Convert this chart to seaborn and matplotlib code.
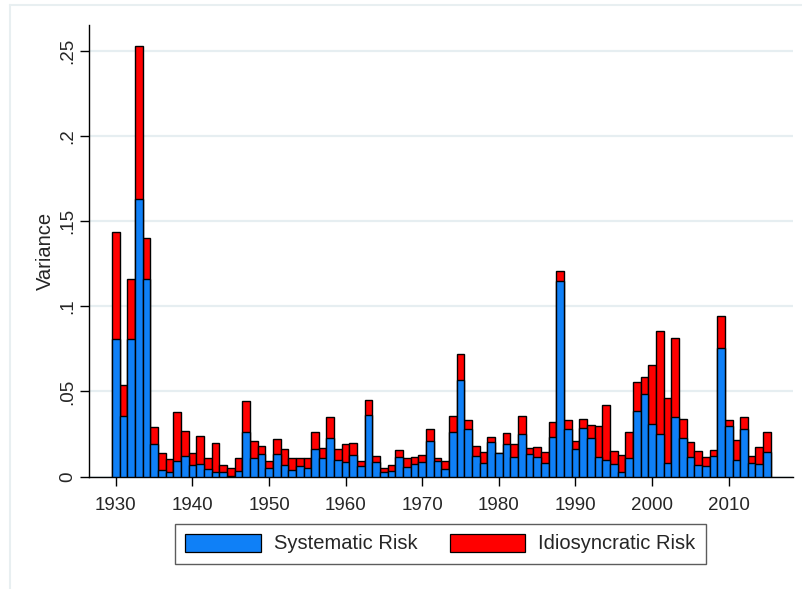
import numpy as np
import matplotlib
matplotlib.use("Agg")
import matplotlib.pyplot as plt
import seaborn as sns
from matplotlib.patches import Patch
from matplotlib.lines import Line2D

# Data
years = list(range(1930, 2016))

systematic = [
    0.0810, 0.0355, 0.0810, 0.1630, 0.1160, 0.0190, 0.0040, 0.0024, 0.0094, 0.0118,  # 1930s
    0.0065, 0.0071, 0.0043, 0.0025, 0.0025, 0.0005, 0.0033, 0.0259, 0.0110, 0.0130,  # 1940s
    0.0049, 0.0130, 0.0069, 0.0037, 0.0061, 0.0049, 0.0161, 0.0110, 0.0228, 0.0098,  # 1950s
    0.0087, 0.0124, 0.0061, 0.0360, 0.0087, 0.0024, 0.0033, 0.0116, 0.0057, 0.0071,  # 1960s
    0.0085, 0.0207, 0.0094, 0.0045, 0.0260, 0.0565, 0.0278, 0.0118, 0.0082, 0.0202,  # 1970s
    0.0137, 0.0192, 0.0114, 0.0249, 0.0135, 0.0114, 0.0082, 0.0233, 0.1149, 0.0278,  # 1980s
    0.0163, 0.0284, 0.0225, 0.0114, 0.0098, 0.0075, 0.0029, 0.0106, 0.0384, 0.0484,  # 1990s
    0.0310, 0.0249, 0.0082, 0.0347, 0.0225, 0.0112, 0.0069, 0.0059, 0.0120, 0.0755,  # 2000s
    0.0294, 0.0098, 0.0278, 0.0082, 0.0075, 0.0143,                                  # 2010s
]

idiosyncratic = [
    0.0627, 0.0184, 0.0350, 0.0900, 0.0240, 0.0100, 0.0099, 0.0076, 0.0286, 0.0151,
    0.0074, 0.0168, 0.0065, 0.0169, 0.0040, 0.0044, 0.0077, 0.0186, 0.0098, 0.0047,
    0.0045, 0.0088, 0.0094, 0.0069, 0.0045, 0.0057, 0.0101, 0.0059, 0.0124, 0.0065,
    0.0104, 0.0075, 0.0033, 0.0091, 0.0031, 0.0027, 0.0032, 0.0040, 0.0053, 0.0041,
    0.0039, 0.0071, 0.0014, 0.0049, 0.0095, 0.0153, 0.0055, 0.0062, 0.0063, 0.0031,
    0.0003, 0.0065, 0.0076, 0.0108, 0.0032, 0.0061, 0.0063, 0.0085, 0.0061, 0.0055,
    0.0047, 0.0055, 0.0079, 0.0180, 0.0320, 0.0076, 0.0098, 0.0153, 0.0169, 0.0100,
    0.0343, 0.0606, 0.0379, 0.0467, 0.0114, 0.0092, 0.0080, 0.0057, 0.0037, 0.0188,
    0.0039, 0.0114, 0.0069, 0.0040, 0.0098, 0.0116,
]

x_ticks = list(range(1930, 2011, 10))
y_ticks = [0, 0.05, 0.10, 0.15, 0.20, 0.25]
y_tick_labels = ["0", ".05", ".1", ".15", ".2", ".25"]
series_names = ["Systematic Risk", "Idiosyncratic Risk"]

BLUE = "#0f80f7"
RED = "#ff0000"

sns.set_style("white")
plt.rcParams["font.family"] = ["Liberation Sans", "DejaVu Sans"]

fig = plt.figure(figsize=(8.02, 5.89), dpi=100)
ax = fig.add_axes([0.111, 0.191, 0.8778, 0.7666])

total = np.array(systematic) + np.array(idiosyncratic)

# Stacked bars: full height in red, systematic part in blue on top
sns.barplot(x=years, y=total, native_scale=True, width=1, color=RED,
            saturation=1, edgecolor="black", linewidth=1.0, errorbar=None,
            ax=ax, zorder=2)
sns.barplot(x=years, y=systematic, native_scale=True, width=1, color=BLUE,
            saturation=1, edgecolor="black", linewidth=1.0, errorbar=None,
            ax=ax, zorder=3)

ax.set_xlim(1926.5, 2018.4)
ax.set_ylim(0, 0.2653)

# Grid
ax.set_axisbelow(True)
ax.yaxis.grid(True, color="#e6eef1", linewidth=1.6)
ax.xaxis.grid(False)

# Spines
ax.spines[["top", "right"]].set_visible(False)
for side in ["left", "bottom"]:
    ax.spines[side].set_color("black")
    ax.spines[side].set_linewidth(1.0)

# Axes ticks
ax.set_xticks(x_ticks)
ax.set_xticklabels([str(y) for y in x_ticks], fontsize=13.5)
ax.set_yticks(y_ticks)
ax.set_yticklabels(y_tick_labels, fontsize=13.5, rotation=90, va="center")
ax.tick_params(axis="both", direction="out", length=6.5, width=1.0, color="black",
               bottom=True, left=True)
ax.tick_params(axis="x", pad=8.5)
ax.tick_params(axis="y", pad=2.5)

ax.set_xlabel("")
ax.set_ylabel("Variance", fontsize=14.5, labelpad=3)

# Legend below the plot
handles = [Patch(facecolor=BLUE, edgecolor="black", linewidth=0.9),
           Patch(facecolor=RED, edgecolor="black", linewidth=0.9)]
leg = fig.legend(handles, series_names, loc="center", ncol=2,
                 bbox_to_anchor=(0.549, 0.0772), fontsize=14.5,
                 frameon=True, fancybox=False, handlelength=3.75,
                 handleheight=1.0, handletextpad=0.65, columnspacing=1.6,
                 borderpad=0.5, borderaxespad=0)
leg.get_frame().set_edgecolor("#333333")
leg.get_frame().set_linewidth(1.0)

# Faint outer graph-region border (left and top)
fig.add_artist(Line2D([10 / 802, 10 / 802], [0, 1 - 5 / 589], transform=fig.transFigure,
                      color="#e8eff1", linewidth=1.5))
fig.add_artist(Line2D([10 / 802, 1], [1 - 5 / 589, 1 - 5 / 589], transform=fig.transFigure,
                      color="#e8eff1", linewidth=1.5))

fig.savefig("out.png", dpi=100, facecolor="white")
